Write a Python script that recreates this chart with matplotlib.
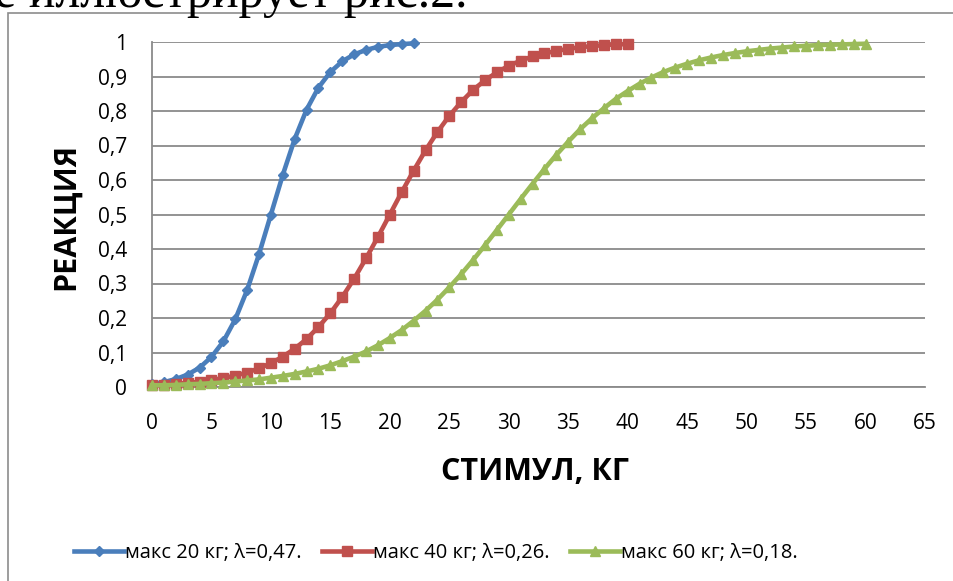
import matplotlib
matplotlib.use('Agg')
import matplotlib.pyplot as plt
from matplotlib.patches import Rectangle

plt.rcParams['font.family'] = ['Open Sans', 'DejaVu Sans']

# values
x_blue = list(range(0, 23))
y_blue = [0.009, 0.014, 0.023, 0.036, 0.056, 0.087, 0.132, 0.196, 0.281, 0.385,
          0.500, 0.615, 0.719, 0.804, 0.868, 0.913, 0.944, 0.964, 0.977, 0.986,
          0.991, 0.994, 0.996]

x_red = list(range(0, 41))
y_red = [0.006, 0.007, 0.009, 0.012, 0.015, 0.020, 0.026, 0.033, 0.042, 0.054,
         0.069, 0.088, 0.111, 0.139, 0.174, 0.214, 0.261, 0.314, 0.373, 0.435,
         0.500, 0.565, 0.627, 0.686, 0.739, 0.786, 0.826, 0.861, 0.889, 0.912,
         0.931, 0.946, 0.958, 0.967, 0.974, 0.980, 0.985, 0.988, 0.991, 0.993,
         0.994]

x_green = list(range(0, 61))
y_green = [0.005, 0.005, 0.006, 0.008, 0.009, 0.011, 0.013, 0.016, 0.019, 0.022,
           0.027, 0.032, 0.038, 0.045, 0.053, 0.063, 0.075, 0.088, 0.103, 0.121,
           0.142, 0.165, 0.192, 0.221, 0.253, 0.289, 0.327, 0.368, 0.411, 0.455,
           0.500, 0.545, 0.589, 0.632, 0.673, 0.711, 0.747, 0.779, 0.808, 0.835,
           0.858, 0.879, 0.897, 0.913, 0.926, 0.937, 0.947, 0.955, 0.962, 0.968,
           0.973, 0.977, 0.981, 0.984, 0.987, 0.989, 0.991, 0.992, 0.993, 0.994,
           0.995]

labels = ['макс 20 кг; λ=0,47.', 'макс 40 кг; λ=0,26.', 'макс 60 кг; λ=0,18.']
x_ticks = list(range(0, 66, 5))
y_ticks = [i / 10 for i in range(0, 11)]

W, H = 954, 581
fig = plt.figure(figsize=(W / 100, H / 100), dpi=100)

# chart frame and the cut-off document line above it
fig.patches.append(Rectangle((8 / W, -0.1), 1.2, 1.1 - 13 / H, transform=fig.transFigure,
                             fill=False, edgecolor='#8c8c8c', linewidth=1.2))
fig.text(-6 / W, 1 - 7 / H, 'е иллюстрирует рис.2.', family='Liberation Serif',
         fontsize=36, va='baseline', ha='left', color='black')

ax = fig.add_axes([152 / W, 1 - 387 / H, (925 - 152) / W, (387 - 42) / H])

grid_c = '#8a8a8a'
ax.plot(x_blue, y_blue, '-', color='#4a7ebb', lw=3.3, marker='D', ms=5, label=labels[0], clip_on=False, zorder=3)
ax.plot(x_red, y_red, '-', color='#c0504d', lw=3.3, marker='s', ms=7.5, label=labels[1], clip_on=False, zorder=3)
ax.plot(x_green, y_green, '-', color='#9bbb59', lw=3.3, marker='^', ms=7.5, label=labels[2], clip_on=False, zorder=3)

ax.set_xlim(0, 65)
ax.set_ylim(0, 1)
ax.set_xticks(x_ticks)
ax.set_yticks(y_ticks)
ax.set_yticklabels([('%g' % v).replace('.', ',') for v in y_ticks])
ax.tick_params(axis='both', length=0, labelsize=15, colors='black')
ax.tick_params(axis='y', pad=18)
ax.tick_params(axis='x', pad=19)

ax.grid(axis='y', color=grid_c, lw=1.3)
ax.set_axisbelow(True)
for s in ['top', 'right']:
    ax.spines[s].set_visible(False)
for s in ['left', 'bottom']:
    ax.spines[s].set_color(grid_c)
    ax.spines[s].set_linewidth(1.3)

fig.text(535 / W, 1 - 472 / H, 'СТИМУЛ, КГ', fontsize=22, fontweight='bold', ha='center', va='center')
fig.text(66 / W, 1 - 216 / H, 'РЕАКЦИЯ', fontsize=22, fontweight='bold', ha='center', va='center', rotation=90)

fig.legend(loc='center', bbox_to_anchor=(436 / W, 1 - 553 / H), ncol=3, frameon=False,
           fontsize=14.5, handlelength=2.5, columnspacing=1.0, handletextpad=0.05)

fig.savefig('out.png', dpi=100)
